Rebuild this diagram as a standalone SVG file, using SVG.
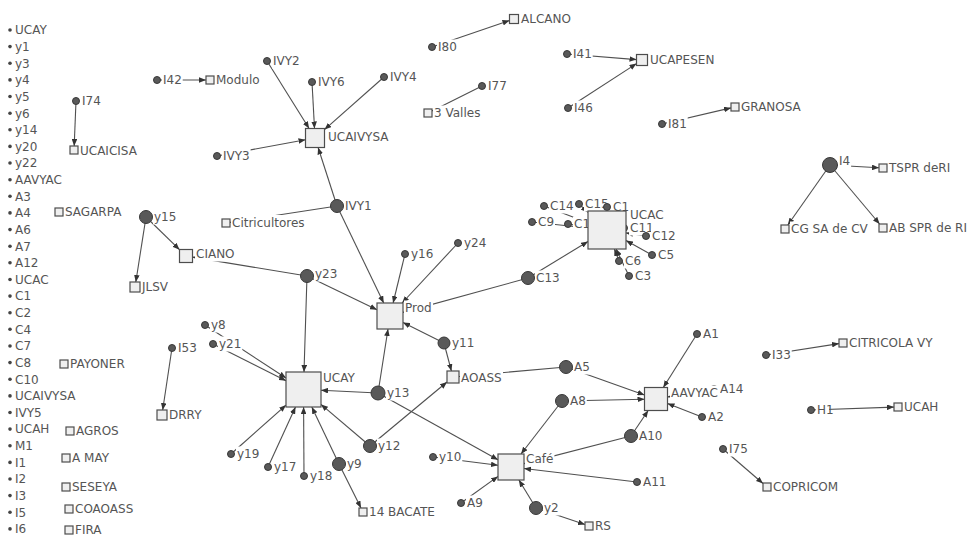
<svg xmlns="http://www.w3.org/2000/svg" width="973" height="543" viewBox="0 0 973 543">
<defs>
<style>
.c{fill:#595959;stroke:#383838;stroke-width:1}
.s{fill:#efefef;stroke:#4d4d4d;stroke-width:1.2}
.lb{fill:#fff}
.d{fill:#444}
text{font-family:"DejaVu Sans","Liberation Sans",sans-serif;font-size:12px;fill:#555}
.e{stroke:#505050;stroke-width:1.1;fill:none;marker-end:url(#ah)}
</style>
<marker id="ah" viewBox="0 0 10 8" refX="10" refY="4" markerWidth="7" markerHeight="5.6" orient="auto" markerUnits="userSpaceOnUse"><path d="M0,0L10,4L0,8z" fill="#333"/></marker>
</defs>
<rect width="973" height="543" fill="#fff"/>
<g id="connectors">
<line class="e" x1="76" y1="101" x2="74.2" y2="146"/>
<line class="e" x1="157" y1="80" x2="206" y2="80"/>
<line class="e" x1="267" y1="61" x2="309.1" y2="128.5"/>
<line class="e" x1="312" y1="82" x2="314.5" y2="128.5"/>
<line class="e" x1="384" y1="77" x2="324.5" y2="129.6"/>
<line class="e" x1="217" y1="156" x2="305.5" y2="139.7"/>
<line class="e" x1="337" y1="206" x2="318.1" y2="147.5"/>
<line class="e" x1="337" y1="206" x2="230" y2="222.4"/>
<line class="e" x1="337" y1="206" x2="383.7" y2="303"/>
<line class="e" x1="146" y1="217" x2="179.5" y2="249.7"/>
<line class="e" x1="146" y1="217" x2="135.8" y2="282"/>
<line class="e" x1="307" y1="276" x2="192.5" y2="257.1"/>
<line class="e" x1="307" y1="276" x2="377" y2="309.7"/>
<line class="e" x1="307" y1="276" x2="304" y2="372"/>
<line class="e" x1="432" y1="47" x2="509.5" y2="20.5"/>
<line class="e" x1="567" y1="54" x2="636.5" y2="59.6"/>
<line class="e" x1="568" y1="108" x2="636.5" y2="63.6"/>
<line class="e" x1="482" y1="86" x2="432" y2="111"/>
<line class="e" x1="662" y1="124" x2="731" y2="107.9"/>
<line class="e" x1="544" y1="206" x2="588" y2="222.8"/>
<line class="e" x1="579" y1="204" x2="588" y2="212.3"/>
<line class="e" x1="607" y1="207" x2="607" y2="211"/>
<line class="e" x1="532" y1="222" x2="588" y2="228"/>
<line class="e" x1="568" y1="224" x2="588" y2="227.1"/>
<line class="e" x1="646" y1="236" x2="626" y2="232.9"/>
<line class="e" x1="652" y1="255" x2="626" y2="240.6"/>
<line class="e" x1="619" y1="261" x2="614.4" y2="249"/>
<line class="e" x1="629" y1="276" x2="616.1" y2="249"/>
<line class="e" x1="528" y1="278" x2="588" y2="241.5"/>
<line class="e" x1="528" y1="278" x2="403" y2="312.4"/>
<line class="e" x1="405" y1="254" x2="393.1" y2="303"/>
<line class="e" x1="458" y1="243" x2="402.1" y2="303"/>
<line class="e" x1="444" y1="343" x2="403" y2="322.5"/>
<line class="e" x1="444" y1="343" x2="451.4" y2="371"/>
<line class="e" x1="378" y1="393" x2="388" y2="329"/>
<line class="e" x1="378" y1="393" x2="321" y2="390.3"/>
<line class="e" x1="378" y1="393" x2="498" y2="459.8"/>
<line class="e" x1="370" y1="446" x2="321" y2="404.4"/>
<line class="e" x1="370" y1="446" x2="447" y2="382"/>
<line class="e" x1="205" y1="325" x2="286" y2="378"/>
<line class="e" x1="213" y1="344" x2="286" y2="380.7"/>
<line class="e" x1="172" y1="348" x2="162.7" y2="410"/>
<line class="e" x1="231" y1="454" x2="286" y2="405.1"/>
<line class="e" x1="268" y1="467" x2="295.5" y2="407"/>
<line class="e" x1="304" y1="476" x2="303.6" y2="407"/>
<line class="e" x1="339" y1="464" x2="311.8" y2="407"/>
<line class="e" x1="339" y1="464" x2="361" y2="508"/>
<line class="e" x1="566" y1="367" x2="459" y2="376.5"/>
<line class="e" x1="566" y1="367" x2="644.5" y2="394.9"/>
<line class="e" x1="562" y1="401" x2="644.5" y2="399.2"/>
<line class="e" x1="562" y1="401" x2="521" y2="454"/>
<line class="e" x1="631" y1="436" x2="648.2" y2="410.5"/>
<line class="e" x1="631" y1="436" x2="524" y2="463.6"/>
<line class="e" x1="697" y1="334" x2="663.3" y2="387.5"/>
<line class="e" x1="702" y1="417" x2="667.5" y2="403.5"/>
<line class="e" x1="714" y1="389" x2="667.5" y2="397"/>
<line class="e" x1="433" y1="457" x2="498" y2="465.3"/>
<line class="e" x1="637" y1="482" x2="524" y2="468.5"/>
<line class="e" x1="461" y1="503" x2="498" y2="476.4"/>
<line class="e" x1="536" y1="508" x2="518.9" y2="480"/>
<line class="e" x1="536" y1="508" x2="585" y2="524.6"/>
<line class="e" x1="766" y1="355" x2="839" y2="343.6"/>
<line class="e" x1="811" y1="410" x2="894" y2="407.1"/>
<line class="e" x1="723" y1="449" x2="763" y2="483.5"/>
<line class="e" x1="830" y1="165" x2="879" y2="167.8"/>
<line class="e" x1="830" y1="165" x2="787.8" y2="225"/>
<line class="e" x1="830" y1="165" x2="879.6" y2="224"/>
</g>
<g id="isolates">
<g id="iso-UCAY"><circle class="d" cx="10" cy="30" r="1.8"/><text x="15" y="34.3">UCAY</text></g>
<g id="iso-y1"><circle class="d" cx="10" cy="46.6" r="1.8"/><text x="15" y="50.9">y1</text></g>
<g id="iso-y3"><circle class="d" cx="10" cy="63.3" r="1.8"/><text x="15" y="67.6">y3</text></g>
<g id="iso-y4"><circle class="d" cx="10" cy="79.9" r="1.8"/><text x="15" y="84.2">y4</text></g>
<g id="iso-y5"><circle class="d" cx="10" cy="96.5" r="1.8"/><text x="15" y="100.8">y5</text></g>
<g id="iso-y6"><circle class="d" cx="10" cy="113.2" r="1.8"/><text x="15" y="117.5">y6</text></g>
<g id="iso-y14"><circle class="d" cx="10" cy="129.8" r="1.8"/><text x="15" y="134.1">y14</text></g>
<g id="iso-y20"><circle class="d" cx="10" cy="146.4" r="1.8"/><text x="15" y="150.7">y20</text></g>
<g id="iso-y22"><circle class="d" cx="10" cy="163" r="1.8"/><text x="15" y="167.3">y22</text></g>
<g id="iso-AAVYAC"><circle class="d" cx="10" cy="179.7" r="1.8"/><text x="15" y="184">AAVYAC</text></g>
<g id="iso-A3"><circle class="d" cx="10" cy="196.3" r="1.8"/><text x="15" y="200.6">A3</text></g>
<g id="iso-A4"><circle class="d" cx="10" cy="212.9" r="1.8"/><text x="15" y="217.2">A4</text></g>
<g id="iso-A6"><circle class="d" cx="10" cy="229.6" r="1.8"/><text x="15" y="233.9">A6</text></g>
<g id="iso-A7"><circle class="d" cx="10" cy="246.2" r="1.8"/><text x="15" y="250.5">A7</text></g>
<g id="iso-A12"><circle class="d" cx="10" cy="262.8" r="1.8"/><text x="15" y="267.1">A12</text></g>
<g id="iso-UCAC"><circle class="d" cx="10" cy="279.5" r="1.8"/><text x="15" y="283.8">UCAC</text></g>
<g id="iso-C1"><circle class="d" cx="10" cy="296.1" r="1.8"/><text x="15" y="300.4">C1</text></g>
<g id="iso-C2"><circle class="d" cx="10" cy="312.7" r="1.8"/><text x="15" y="317">C2</text></g>
<g id="iso-C4"><circle class="d" cx="10" cy="329.3" r="1.8"/><text x="15" y="333.6">C4</text></g>
<g id="iso-C7"><circle class="d" cx="10" cy="346" r="1.8"/><text x="15" y="350.3">C7</text></g>
<g id="iso-C8"><circle class="d" cx="10" cy="362.6" r="1.8"/><text x="15" y="366.9">C8</text></g>
<g id="iso-C10"><circle class="d" cx="10" cy="379.2" r="1.8"/><text x="15" y="383.5">C10</text></g>
<g id="iso-UCAIVYSA"><circle class="d" cx="10" cy="395.9" r="1.8"/><text x="15" y="400.2">UCAIVYSA</text></g>
<g id="iso-IVY5"><circle class="d" cx="10" cy="412.5" r="1.8"/><text x="15" y="416.8">IVY5</text></g>
<g id="iso-UCAH"><circle class="d" cx="10" cy="429.1" r="1.8"/><text x="15" y="433.4">UCAH</text></g>
<g id="iso-M1"><circle class="d" cx="10" cy="445.8" r="1.8"/><text x="15" y="450.1">M1</text></g>
<g id="iso-I1"><circle class="d" cx="10" cy="462.4" r="1.8"/><text x="15" y="466.7">I1</text></g>
<g id="iso-I2"><circle class="d" cx="10" cy="479" r="1.8"/><text x="15" y="483.3">I2</text></g>
<g id="iso-I3"><circle class="d" cx="10" cy="495.6" r="1.8"/><text x="15" y="499.9">I3</text></g>
<g id="iso-I5"><circle class="d" cx="10" cy="512.3" r="1.8"/><text x="15" y="516.6">I5</text></g>
<g id="iso-I6"><circle class="d" cx="10" cy="528.9" r="1.8"/><text x="15" y="533.2">I6</text></g>
</g>
<g id="nodes">
<g id="n-UCAICISA"><rect class="s" x="70" y="146" width="8" height="8"/><rect class="lb" x="79" y="143.5" width="58.6" height="15"/><text x="80" y="155.3">UCAICISA</text></g>
<g id="n-SAGARPA"><rect class="s" x="55" y="208" width="8" height="8"/><rect class="lb" x="64" y="204.5" width="59" height="15"/><text x="65" y="216.3">SAGARPA</text></g>
<g id="n-PAYONER"><rect class="s" x="60" y="360" width="8" height="8"/><rect class="lb" x="69" y="356.5" width="59" height="15"/><text x="70" y="368.3">PAYONER</text></g>
<g id="n-AGROS"><rect class="s" x="66" y="427" width="8" height="8"/><rect class="lb" x="75" y="423.5" width="44.8" height="15"/><text x="76" y="435.3">AGROS</text></g>
<g id="n-A-MAY"><rect class="s" x="62" y="454" width="8" height="8"/><rect class="lb" x="71" y="450.5" width="39.8" height="15"/><text x="72" y="462.3">A MAY</text></g>
<g id="n-SESEYA"><rect class="s" x="62" y="483" width="8" height="8"/><rect class="lb" x="71" y="479.5" width="47.9" height="15"/><text x="72" y="491.3">SESEYA</text></g>
<g id="n-COAOASS"><rect class="s" x="65" y="505" width="8" height="8"/><rect class="lb" x="74" y="501.5" width="60.8" height="15"/><text x="75" y="513.3">COAOASS</text></g>
<g id="n-FIRA"><rect class="s" x="65" y="526" width="8" height="8"/><rect class="lb" x="74" y="522.5" width="28.9" height="15"/><text x="75" y="534.3">FIRA</text></g>
<g id="n-I74"><circle class="c" cx="76" cy="101" r="3.5"/><rect class="lb" x="81" y="93.5" width="20.7" height="15"/><text x="82" y="105.3">I74</text></g>
<g id="n-I42"><circle class="c" cx="157" cy="80" r="3.5"/><rect class="lb" x="162" y="72.5" width="20.7" height="15"/><text x="163" y="84.3">I42</text></g>
<g id="n-Modulo"><rect class="s" x="206" y="76" width="8" height="8"/><rect class="lb" x="215" y="72.5" width="45.4" height="15"/><text x="216" y="84.3">Modulo</text></g>
<g id="n-IVY2"><circle class="c" cx="267" cy="61" r="3.5"/><rect class="lb" x="272" y="53.5" width="28.6" height="15"/><text x="273" y="65.3">IVY2</text></g>
<g id="n-IVY6"><circle class="c" cx="312" cy="82" r="3.5"/><rect class="lb" x="317" y="74.5" width="28.6" height="15"/><text x="318" y="86.3">IVY6</text></g>
<g id="n-IVY4"><circle class="c" cx="384" cy="77" r="3.5"/><rect class="lb" x="389" y="69.5" width="28.6" height="15"/><text x="390" y="81.3">IVY4</text></g>
<g id="n-IVY3"><circle class="c" cx="217" cy="156" r="3.5"/><rect class="lb" x="222" y="148.5" width="28.6" height="15"/><text x="223" y="160.3">IVY3</text></g>
<g id="n-UCAIVYSA"><rect class="s" x="305.5" y="128.5" width="19" height="19"/><rect class="lb" x="327" y="129.5" width="62.2" height="15"/><text x="328" y="141.3">UCAIVYSA</text></g>
<g id="n-IVY1"><circle class="c" cx="337" cy="206" r="6.5"/><rect class="lb" x="344" y="198.5" width="28.6" height="15"/><text x="345" y="210.3">IVY1</text></g>
<g id="n-Citricultores"><rect class="s" x="222" y="219" width="8" height="8"/><rect class="lb" x="231" y="215" width="74.7" height="16"/><text x="232" y="227.3">Citricultores</text></g>
<g id="n-y15"><circle class="c" cx="146" cy="217" r="6.5"/><rect class="lb" x="153" y="209.5" width="24.3" height="15"/><text x="154" y="221.3">y15</text></g>
<g id="n-CIANO"><rect class="s" x="179.5" y="249.5" width="13" height="13"/><rect class="lb" x="195" y="246.5" width="40.5" height="15"/><text x="196" y="258.3">CIANO</text></g>
<g id="n-JLSV"><rect class="s" x="130" y="282" width="10" height="10"/><rect class="lb" x="141" y="279.5" width="28" height="15"/><text x="142" y="291.3">JLSV</text></g>
<g id="n-I80"><circle class="c" cx="432" cy="47" r="3.5"/><rect class="lb" x="437" y="39.5" width="20.7" height="15"/><text x="438" y="51.3">I80</text></g>
<g id="n-ALCANO"><rect class="s" x="509.5" y="14.5" width="9" height="9"/><rect class="lb" x="520" y="11.5" width="51.9" height="15"/><text x="521" y="23.3">ALCANO</text></g>
<g id="n-I41"><circle class="c" cx="567" cy="54" r="3.5"/><rect class="lb" x="572" y="46.5" width="20.7" height="15"/><text x="573" y="58.3">I41</text></g>
<g id="n-I46"><circle class="c" cx="568" cy="108" r="3.5"/><rect class="lb" x="573" y="100.5" width="20.7" height="15"/><text x="574" y="112.3">I46</text></g>
<g id="n-UCAPESEN"><rect class="s" x="636.5" y="54.5" width="11" height="11"/><rect class="lb" x="649" y="52.5" width="66.4" height="15"/><text x="650" y="64.3">UCAPESEN</text></g>
<g id="n-I77"><circle class="c" cx="482" cy="86" r="3.5"/><rect class="lb" x="487" y="78.5" width="20.7" height="15"/><text x="488" y="90.3">I77</text></g>
<g id="n-3-Valles"><rect class="s" x="424" y="109" width="8" height="8"/><rect class="lb" x="433" y="105.5" width="49.3" height="15"/><text x="434" y="117.3">3 Valles</text></g>
<g id="n-I81"><circle class="c" cx="662" cy="124" r="3.5"/><rect class="lb" x="667" y="116.5" width="20.7" height="15"/><text x="668" y="128.3">I81</text></g>
<g id="n-GRANOSA"><rect class="s" x="731" y="103" width="8" height="8"/><rect class="lb" x="740" y="99.5" width="62" height="15"/><text x="741" y="111.3">GRANOSA</text></g>
<g id="n-C14"><circle class="c" cx="544" cy="206" r="3.5"/><rect class="lb" x="549" y="198.5" width="25.6" height="15"/><text x="550" y="210.3">C14</text></g>
<g id="n-C15"><circle class="c" cx="579" cy="204" r="3.5"/><rect class="lb" x="584" y="196.5" width="25.6" height="15"/><text x="585" y="208.3">C15</text></g>
<g id="n-C9"><circle class="c" cx="532" cy="222" r="3.5"/><rect class="lb" x="537" y="214.5" width="18" height="15"/><text x="538" y="226.3">C9</text></g>
<g id="n-C1b"><circle class="c" cx="568" cy="224" r="3.5"/><rect class="lb" x="573" y="216.5" width="18" height="15"/><text x="574" y="228.3">C1</text></g>
<g id="n-C16"><circle class="c" cx="607" cy="207" r="3.5"/><rect class="lb" x="612" y="199.5" width="17" height="15"/><text x="613" y="211.3">C1</text></g>
<g id="n-C11"><circle class="c" cx="624" cy="228" r="3.5"/><rect class="lb" x="629" y="220.5" width="25.6" height="15"/><text x="630" y="232.3">C11</text></g>
<g id="n-UCAC"><rect class="s" x="588" y="211" width="38" height="38"/><rect class="lb" x="629" y="207.5" width="35.8" height="13"/><text x="630" y="218.8">UCAC</text></g>
<g id="n-C12"><circle class="c" cx="646" cy="236" r="3.5"/><rect class="lb" x="651" y="228.5" width="25.6" height="15"/><text x="652" y="240.3">C12</text></g>
<g id="n-C5"><circle class="c" cx="652" cy="255" r="3.5"/><rect class="lb" x="657" y="247.5" width="18" height="15"/><text x="658" y="259.3">C5</text></g>
<g id="n-C6"><circle class="c" cx="619" cy="261" r="3.5"/><rect class="lb" x="624" y="253.5" width="18" height="15"/><text x="625" y="265.3">C6</text></g>
<g id="n-C3"><circle class="c" cx="629" cy="276" r="3.5"/><rect class="lb" x="634" y="268.5" width="18" height="15"/><text x="635" y="280.3">C3</text></g>
<g id="n-C13"><circle class="c" cx="528" cy="278" r="6.5"/><rect class="lb" x="535" y="270.5" width="25.6" height="15"/><text x="536" y="282.3">C13</text></g>
<g id="n-y16"><circle class="c" cx="405" cy="254" r="3.5"/><rect class="lb" x="410" y="246.5" width="24.3" height="15"/><text x="411" y="258.3">y16</text></g>
<g id="n-y24"><circle class="c" cx="458" cy="243" r="3.5"/><rect class="lb" x="463" y="235.5" width="24.3" height="15"/><text x="464" y="247.3">y24</text></g>
<g id="n-Prod"><rect class="s" x="377" y="303" width="26" height="26"/><rect class="lb" x="404" y="300.5" width="29" height="15"/><text x="405" y="312.3">Prod</text></g>
<g id="n-y23"><circle class="c" cx="307" cy="276" r="6.5"/><rect class="lb" x="314" y="266.5" width="24.3" height="15"/><text x="315" y="278.3">y23</text></g>
<g id="n-y11"><circle class="c" cx="444" cy="343" r="6"/><rect class="lb" x="451" y="335.5" width="24.3" height="15"/><text x="452" y="347.3">y11</text></g>
<g id="n-AOASS"><rect class="s" x="447" y="371" width="12" height="12"/><rect class="lb" x="460" y="370.5" width="43" height="15"/><text x="461" y="382.3">AOASS</text></g>
<g id="n-UCAY"><rect class="s" x="286" y="372" width="35" height="35"/><rect class="lb" x="322" y="370.5" width="34.7" height="15"/><text x="323" y="382.3">UCAY</text></g>
<g id="n-y13"><circle class="c" cx="378" cy="393" r="7"/><rect class="lb" x="386" y="385.5" width="24.3" height="15"/><text x="387" y="397.3">y13</text></g>
<g id="n-y12"><circle class="c" cx="370" cy="446" r="6.5"/><rect class="lb" x="377" y="438.5" width="24.3" height="15"/><text x="378" y="450.3">y12</text></g>
<g id="n-y8"><circle class="c" cx="205" cy="325" r="3.5"/><rect class="lb" x="210" y="317.5" width="16.7" height="15"/><text x="211" y="329.3">y8</text></g>
<g id="n-y21"><circle class="c" cx="213" cy="344" r="3.5"/><rect class="lb" x="218" y="336.5" width="24.3" height="15"/><text x="219" y="348.3">y21</text></g>
<g id="n-I53"><circle class="c" cx="172" cy="348" r="3.5"/><rect class="lb" x="177" y="340.5" width="20.7" height="15"/><text x="178" y="352.3">I53</text></g>
<g id="n-DRRY"><rect class="s" x="157" y="410" width="10" height="10"/><rect class="lb" x="168" y="407.5" width="35.1" height="15"/><text x="169" y="419.3">DRRY</text></g>
<g id="n-y19"><circle class="c" cx="231" cy="454" r="3.5"/><rect class="lb" x="236" y="446.5" width="24.3" height="15"/><text x="237" y="458.3">y19</text></g>
<g id="n-y17"><circle class="c" cx="268" cy="467" r="3.5"/><rect class="lb" x="273" y="459.5" width="24.3" height="15"/><text x="274" y="471.3">y17</text></g>
<g id="n-y18"><circle class="c" cx="304" cy="476" r="3.5"/><rect class="lb" x="309" y="468.5" width="24.3" height="15"/><text x="310" y="480.3">y18</text></g>
<g id="n-y9"><circle class="c" cx="339" cy="464" r="6.5"/><rect class="lb" x="346" y="456.5" width="16.7" height="15"/><text x="347" y="468.3">y9</text></g>
<g id="n-14-BACATE"><rect class="s" x="359" y="508" width="8" height="8"/><rect class="lb" x="368" y="504.5" width="68.9" height="15"/><text x="369" y="516.3">14 BACATE</text></g>
<g id="n-A5"><circle class="c" cx="566" cy="367" r="6.5"/><rect class="lb" x="573" y="359.5" width="17.8" height="15"/><text x="574" y="371.3">A5</text></g>
<g id="n-A8"><circle class="c" cx="562" cy="401" r="6.5"/><rect class="lb" x="569" y="393.5" width="17.8" height="15"/><text x="570" y="405.3">A8</text></g>
<g id="n-A10"><circle class="c" cx="631" cy="436" r="6.5"/><rect class="lb" x="638" y="428.5" width="25.4" height="15"/><text x="639" y="440.3">A10</text></g>
<g id="n-A1"><circle class="c" cx="697" cy="334" r="3.5"/><rect class="lb" x="702" y="326.5" width="17.8" height="15"/><text x="703" y="338.3">A1</text></g>
<g id="n-A2"><circle class="c" cx="702" cy="417" r="3.5"/><rect class="lb" x="707" y="409.5" width="17.8" height="15"/><text x="708" y="421.3">A2</text></g>
<g id="n-A14"><circle class="c" cx="714" cy="389" r="3.5"/><rect class="lb" x="719" y="381.5" width="25.4" height="15"/><text x="720" y="393.3">A14</text></g>
<g id="n-AAVYAC"><rect class="s" x="644.5" y="387.5" width="23" height="23"/><rect class="lb" x="670" y="385.5" width="50" height="15"/><text x="671" y="397.3">AAVYAC</text></g>
<g id="n-y10"><circle class="c" cx="433" cy="457" r="3.5"/><rect class="lb" x="438" y="449.5" width="24.3" height="15"/><text x="439" y="461.3">y10</text></g>
<g id="n-A11"><circle class="c" cx="637" cy="482" r="3.5"/><rect class="lb" x="642" y="474.5" width="25.4" height="15"/><text x="643" y="486.3">A11</text></g>
<g id="n-A9"><circle class="c" cx="461" cy="503" r="3.5"/><rect class="lb" x="466" y="495.5" width="17.8" height="15"/><text x="467" y="507.3">A9</text></g>
<g id="n-Cafe"><rect class="s" x="498" y="454" width="26" height="26"/><rect class="lb" x="525" y="451.5" width="29.4" height="15"/><text x="526" y="463.3">Café</text></g>
<g id="n-y2"><circle class="c" cx="536" cy="508" r="6.5"/><rect class="lb" x="543" y="500.5" width="16.7" height="15"/><text x="544" y="512.3">y2</text></g>
<g id="n-RS"><rect class="s" x="585" y="522" width="8" height="8"/><rect class="lb" x="594" y="518.5" width="17.9" height="15"/><text x="595" y="530.3">RS</text></g>
<g id="n-I33"><circle class="c" cx="766" cy="355" r="3.5"/><rect class="lb" x="771" y="347.5" width="20.7" height="15"/><text x="772" y="359.3">I33</text></g>
<g id="n-CITRICOLA-VY"><rect class="s" x="839" y="339" width="8" height="8"/><rect class="lb" x="848" y="335.5" width="85" height="15"/><text x="849" y="347.3">CITRICOLA VY</text></g>
<g id="n-H1"><circle class="c" cx="811" cy="410" r="3.5"/><rect class="lb" x="816" y="402.5" width="13.1" height="15"/><text x="817" y="414.3">H1</text></g>
<g id="n-UCAH"><rect class="s" x="894" y="403" width="8" height="8"/><rect class="lb" x="903" y="399.5" width="36.4" height="15"/><text x="904" y="411.3">UCAH</text></g>
<g id="n-I75"><circle class="c" cx="723" cy="449" r="3.5"/><rect class="lb" x="728" y="441.5" width="20.7" height="15"/><text x="729" y="453.3">I75</text></g>
<g id="n-COPRICOM"><rect class="s" x="763" y="483" width="8" height="8"/><rect class="lb" x="772" y="479.5" width="66.9" height="15"/><text x="773" y="491.3">COPRICOM</text></g>
<g id="n-I4"><circle class="c" cx="830" cy="165" r="7.5"/><rect class="lb" x="838" y="153.5" width="13.1" height="15"/><text x="839" y="165.3">I4</text></g>
<g id="n-TSPR-deRI"><rect class="s" x="879" y="164" width="8" height="8"/><rect class="lb" x="888" y="160.5" width="63" height="15"/><text x="889" y="172.3">TSPR deRI</text></g>
<g id="n-CG-SA-de-CV"><rect class="s" x="781" y="225" width="8" height="8"/><rect class="lb" x="790" y="221.5" width="78.5" height="15"/><text x="791" y="233.3">CG SA de CV</text></g>
<g id="n-AB-SPR-de-RI"><rect class="s" x="879" y="224" width="8" height="8"/><rect class="lb" x="888" y="220.5" width="79.7" height="15"/><text x="889" y="232.3">AB SPR de RI</text></g>
</g>
</svg>
